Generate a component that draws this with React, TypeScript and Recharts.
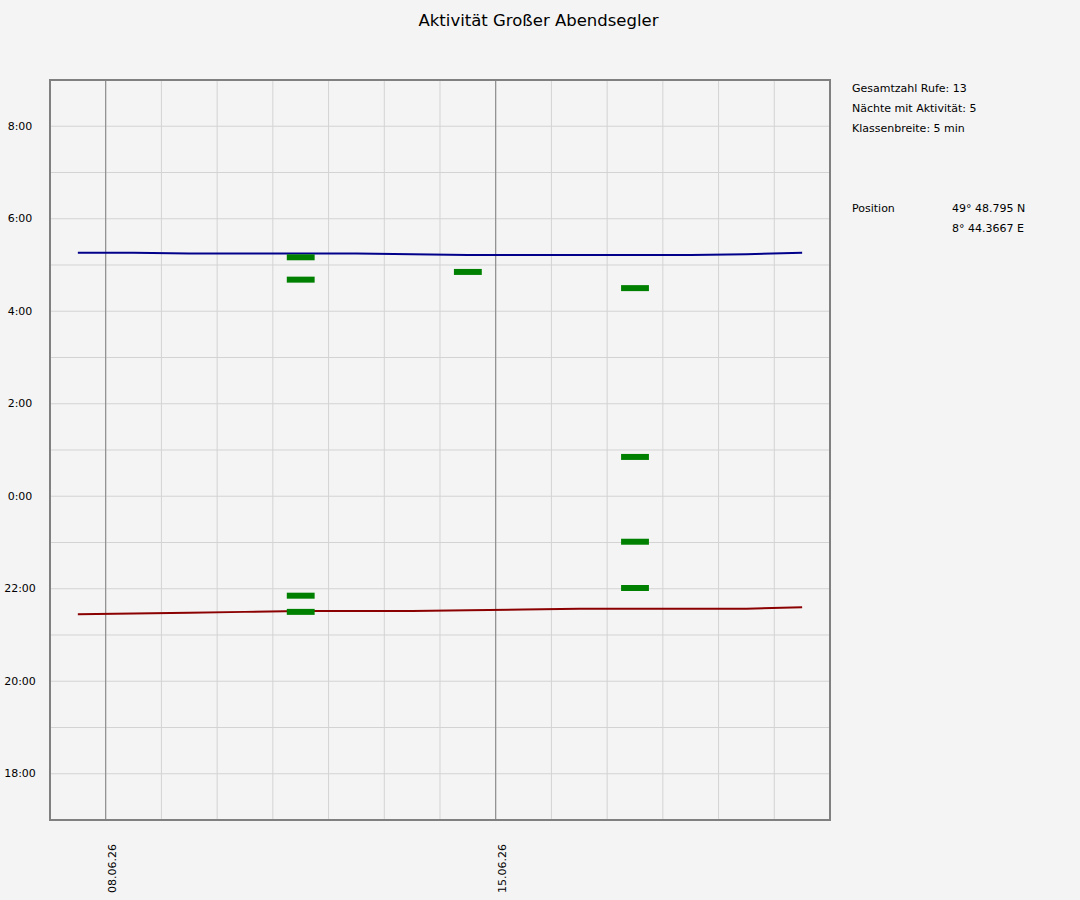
import React from 'react';
import {
  ComposedChart,
  Line,
  XAxis,
  YAxis,
  CartesianGrid,
  ReferenceLine,
  ReferenceArea,
} from 'recharts';

// days of June 2026 (x = day + 0.5 is the middle of the night column)
const sunDays = [7.5, 8.5, 9.5, 10.5, 11.5, 12.5, 13.5, 14.5, 15.5, 16.5, 17.5, 18.5, 19.5, 20.5];
const sunriseTimes = ['5:16', '5:16', '5:15', '5:15', '5:15', '5:15', '5:14', '5:13', '5:13', '5:13', '5:13', '5:13', '5:14', '5:16'];
const sunsetTimes = ['21:27', '21:28', '21:29', '21:30', '21:31', '21:31', '21:31', '21:32', '21:33', '21:34', '21:34', '21:34', '21:34', '21:36'];

// activity classes (night start day, time)
const markNights = [11, 11, 11, 11, 14, 17, 17, 17, 17];
const markTimes = ['5:10', '4:41', '21:51', '21:30', '4:51', '4:30', '0:51', '23:01', '22:01'];

const dayTicks = [7, 8, 9, 10, 11, 12, 13, 14, 15, 16, 17, 18, 19, 20, 21];
const weekTicks = [8, 15];
const hourTicks = [17, 18, 19, 20, 21, 22, 23, 24, 25, 26, 27, 28, 29, 30, 31, 32, 33];

const infoLines = ['Gesamtzahl Rufe: 13', 'Nächte mit Aktivität: 5', 'Klassenbreite: 5 min'];

const FONT = '"DejaVu Sans", sans-serif';

// hours after midnight, times before noon belong to the next day
function toHours(s: string) {
  const [h, m] = s.split(':').map(Number);
  const v = h + m / 60;
  return v < 12 ? v + 24 : v;
}

const sunData = sunDays.map((d, i) => ({
  day: d,
  rise: toHours(sunriseTimes[i]),
  set: toHours(sunsetTimes[i]),
}));

const marks = markNights.map((n, i) => [
  { day: n + 0.25, t: toHours(markTimes[i]) },
  { day: n + 0.75, t: toHours(markTimes[i]) },
]);

const fmtHour = (v: number) => {
  const h = v % 24;
  return `${h}:00`;
};

const DateTick = (props: any) => {
  const { x, y, payload } = props;
  if (!weekTicks.includes(payload.value)) return null;
  const d = String(payload.value).padStart(2, '0');
  const tx = x + 7;
  const ty = y + 16;
  return (
    <text
      x={tx}
      y={ty}
      transform={`rotate(-90, ${tx}, ${ty})`}
      textAnchor="end"
      dominantBaseline="central"
      fontSize={11}
      fontFamily={FONT}
      fill="#000"
    >
      {`${d}.06.26`}
    </text>
  );
};

const HourTick = (props: any) => {
  const { y, payload } = props;
  if (payload.value % 2 !== 0) return null;
  return (
    <text x={20} y={y} textAnchor="middle" dominantBaseline="central" fontSize={11} fontFamily={FONT} fill="#000">
      {fmtHour(payload.value)}
    </text>
  );
};

export default function App() {
  return (
    <div style={{ position: 'relative', width: 1080, height: 900, background: '#f4f4f4', fontFamily: FONT }}>
      <style>{`body{margin:0;background:#f4f4f4}`}</style>
      <div style={{ position: 'absolute', left: 0, width: 1077, top: 11, textAlign: 'center', fontSize: 16.5 }}>
        Aktivität Großer Abendsegler
      </div>
      <div style={{ position: 'absolute', left: 852, top: 79, fontSize: 11, lineHeight: '20px' }}>
        {infoLines.map((l) => (
          <div key={l}>{l}</div>
        ))}
      </div>
      <div style={{ position: 'absolute', left: 852, top: 199, fontSize: 11, lineHeight: '20px' }}>Position</div>
      <div style={{ position: 'absolute', left: 952, top: 199, fontSize: 11, lineHeight: '20px' }}>
        <div>49° 48.795 N</div>
        <div>8° 44.3667 E</div>
      </div>
      <ComposedChart width={1080} height={900} margin={{ top: 80, right: 250, bottom: 0, left: 0 }}>
        <CartesianGrid stroke="#d3d3d3" strokeWidth={1} />
        <XAxis
          type="number"
          dataKey="day"
          domain={[7, 21]}
          ticks={dayTicks}
          allowDataOverflow
          height={80}
          axisLine={false}
          tickLine={false}
          tick={<DateTick />}
          interval={0}
        />
        <YAxis
          type="number"
          domain={[17, 33]}
          ticks={hourTicks}
          allowDataOverflow
          width={50}
          axisLine={false}
          tickLine={false}
          tick={<HourTick />}
          interval={0}
        />
        {weekTicks.map((w) => (
          <ReferenceLine key={w} x={w} stroke="#808080" strokeWidth={1} />
        ))}
        <Line data={sunData} dataKey="rise" stroke="#00008b" strokeWidth={2} dot={false} isAnimationActive={false} />
        <Line data={sunData} dataKey="set" stroke="#8b0000" strokeWidth={2} dot={false} isAnimationActive={false} />
        {marks.map((m, i) => (
          <Line
            key={i}
            data={m}
            dataKey="t"
            stroke="#008000"
            strokeWidth={6}
            dot={false}
            isAnimationActive={false}
          />
        ))}
        <ReferenceArea x1={7} x2={21} y1={17} y2={33} fill="none" stroke="#808080" strokeWidth={2} />
      </ComposedChart>
    </div>
  );
}
